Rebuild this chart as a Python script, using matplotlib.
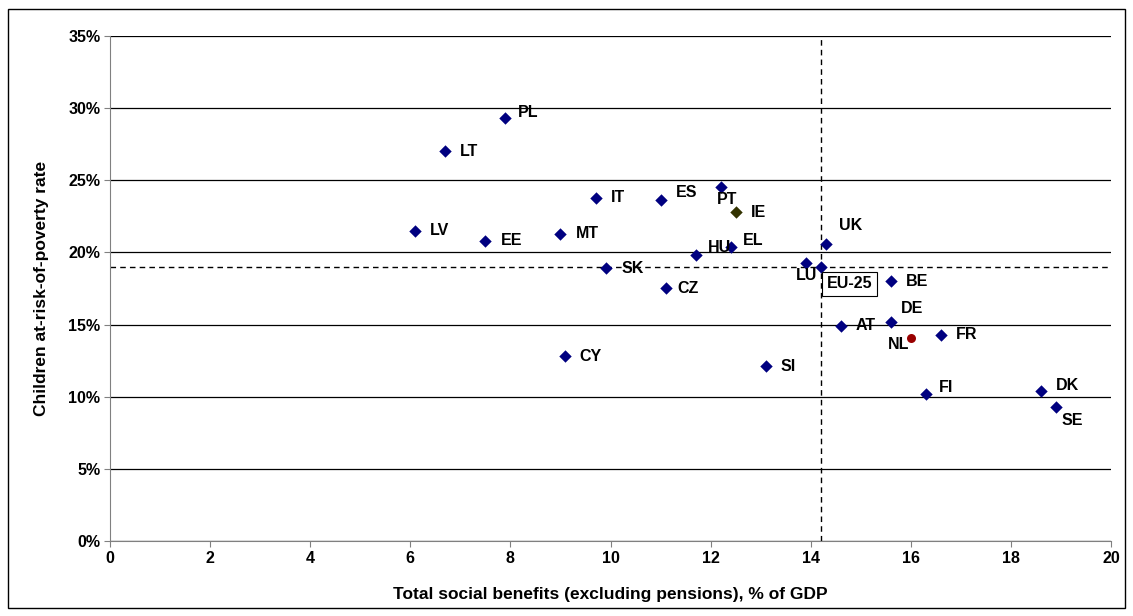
import matplotlib
matplotlib.use('Agg')
matplotlib.rcParams['font.family'] = ['Liberation Sans', 'DejaVu Sans']
import matplotlib.pyplot as plt
from matplotlib.ticker import FuncFormatter

countries = ['PL', 'LT', 'IT', 'ES', 'PT', 'LV', 'EE', 'MT', 'HU', 'EL', 'SK', 'CZ',
             'UK', 'LU', 'BE', 'DE', 'AT', 'FR', 'SI', 'CY', 'FI', 'DK', 'SE']
benefits = [7.9, 6.7, 9.7, 11.0, 12.2, 6.1, 7.5, 9.0, 11.7, 12.4, 9.9, 11.1,
            14.3, 13.9, 15.6, 15.6, 14.6, 16.6, 13.1, 9.1, 16.3, 18.6, 18.9]
poverty = [29.3, 27.0, 23.8, 23.6, 24.5, 21.5, 20.8, 21.3, 19.8, 20.4, 18.9, 17.5,
           20.6, 19.3, 18.0, 15.2, 14.9, 14.3, 12.1, 12.8, 10.2, 10.4, 9.3]

ie_benefit, ie_poverty = 12.5, 22.8
nl_benefit, nl_poverty = 16.0, 14.1
eu_benefit, eu_poverty = 14.2, 19.0

# label offsets in pixels (dx, dy, horizontal alignment)
offsets = {
    'PL': (12, 6, 'left'), 'LT': (15, 0, 'left'), 'IT': (15, 0, 'left'),
    'ES': (15, 8, 'left'), 'PT': (-4, -12, 'left'), 'LV': (15, 0, 'left'),
    'EE': (15, 0, 'left'), 'MT': (15, 0, 'left'), 'HU': (12, 8, 'left'),
    'EL': (12, 6, 'left'), 'SK': (16, 0, 'left'), 'CZ': (12, 0, 'left'),
    'UK': (13, 18, 'left'), 'LU': (12, -13, 'right'), 'BE': (15, 0, 'left'),
    'DE': (10, 13, 'left'), 'AT': (15, 0, 'left'), 'FR': (15, 0, 'left'),
    'SI': (15, 0, 'left'), 'CY': (14, 0, 'left'), 'FI': (13, 6, 'left'),
    'DK': (15, 5, 'left'), 'SE': (6, -14, 'left'),
}

fig = plt.figure(figsize=(11.33, 6.16), dpi=100)
fig.patches.append(plt.Rectangle((0.007, 0.013), 0.986, 0.973, transform=fig.transFigure,
                                 fill=False, edgecolor='black', linewidth=1))
ax = fig.add_axes([0.0971, 0.1218, 0.8835, 0.8198])

ax.scatter(benefits, poverty, marker='D', s=40, color='#000080', zorder=3, linewidths=0)
ax.scatter([ie_benefit], [ie_poverty], marker='D', s=40, color='#333300', zorder=3, linewidths=0)
ax.scatter([nl_benefit], [nl_poverty], marker='o', s=42, color='#990000', zorder=3, linewidths=0)
ax.scatter([eu_benefit], [eu_poverty], marker='D', s=40, color='#000080', zorder=3, linewidths=0)

lab_fs = 11.5
for c, xv, yv in zip(countries, benefits, poverty):
    dx, dy, ha = offsets[c]
    ax.annotate(c, (xv, yv), xytext=(dx, dy), textcoords='offset pixels',
                ha=ha, va='center', fontsize=lab_fs, fontweight='bold')
ax.annotate('IE', (ie_benefit, ie_poverty), xytext=(15, 0), textcoords='offset pixels',
            ha='left', va='center', fontsize=lab_fs, fontweight='bold')
ax.annotate('NL', (nl_benefit, nl_poverty), xytext=(-23, -7), textcoords='offset pixels',
            ha='left', va='center', fontsize=lab_fs, fontweight='bold')
ax.annotate('EU-25', (eu_benefit, eu_poverty), xytext=(6, -17), textcoords='offset pixels',
            ha='left', va='center', fontsize=lab_fs, fontweight='bold',
            bbox=dict(boxstyle='square,pad=0.3', fc='white', ec='black', lw=0.8))

ax.axvline(eu_benefit, color='black', linestyle=(0, (4, 3)), linewidth=1, zorder=2)
ax.axhline(eu_poverty, color='black', linestyle=(0, (4, 3)), linewidth=1, zorder=2)

ax.set_xlim(0, 20)
ax.set_ylim(0, 35)
ax.set_xticks(range(0, 21, 2))
ax.set_yticks(range(0, 36, 5))
ax.yaxis.set_major_formatter(FuncFormatter(lambda v, p: f'{v:.0f}%'))
ax.grid(axis='y', color='black', linewidth=0.9)
ax.set_axisbelow(True)
for s in ['top', 'right']:
    ax.spines[s].set_visible(False)
for s in ['left', 'bottom']:
    ax.spines[s].set_color('#808080')
ax.tick_params(axis='both', length=4, color='#808080', labelsize=11.5, pad=3)
for lbl in ax.get_xticklabels() + ax.get_yticklabels():
    lbl.set_fontweight('bold')

ax.set_xlabel('Total social benefits (excluding pensions), % of GDP', fontsize=12.5,
              fontweight='bold', labelpad=15)
ax.set_ylabel('Children at-risk-of-poverty rate', fontsize=12.5, fontweight='bold', labelpad=14)

fig.savefig('out.png', dpi=100)
